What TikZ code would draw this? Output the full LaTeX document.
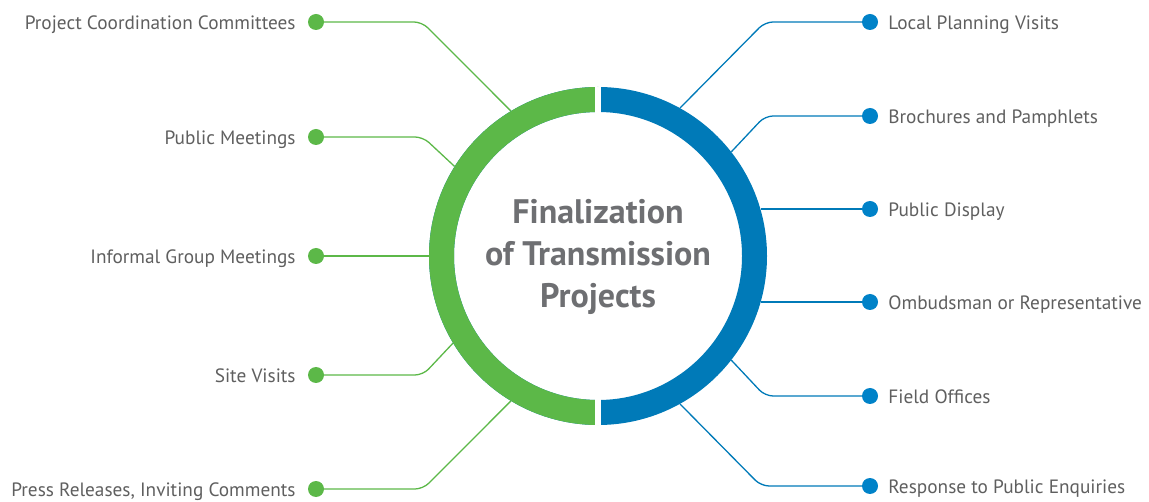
\documentclass[tikz,border=0pt]{standalone}
\usepackage{fontspec}
\setmainfont{PT Sans}
\usepackage{xcolor}
\usepackage{tikz}
\usetikzlibrary{positioning, calc}
\definecolor{RingGreen}{RGB}{92, 184, 72}
\definecolor{RingBlue}{RGB}{0, 122, 184}
\definecolor{DotBlue}{RGB}{0, 130, 200}
\definecolor{LabelGray}{RGB}{95, 95, 95}
\definecolor{TitleGray}{RGB}{110, 111, 114}
\tikzset{
  gdot/.style={circle, fill=RingGreen, inner sep=0pt, minimum size=16pt},
  bdot/.style={circle, fill=DotBlue, inner sep=0pt, minimum size=16pt},
  lbl/.style={font=\fontsize{19.3}{24}\selectfont, text=LabelGray,
    inner sep=0pt, text height=15pt, text depth=0pt},
  glink/.style={draw=RingGreen, line width=1.3pt, rounded corners=8pt},
  blink/.style={draw=RingBlue, line width=1.3pt, rounded corners=8pt},
  ring/.style={line width=25pt},
}

\begin{document}
\begin{tikzpicture}[x=1pt, y=-1pt]
  \useasboundingbox (0,0) rectangle (1149,502);
  \node[circle, minimum size=338pt, inner sep=0pt] (hub) at (598,256) {};

  % left side
  \node[gdot] (dpcc) at (316,22) {};
  \node[gdot] (dpm)  at (316,137) {};
  \node[gdot] (digm) at (316,256) {};
  \node[gdot] (dsv)  at (316,375) {};
  \node[gdot] (dpr)  at (316,489) {};
  \node[lbl, left=12pt of dpcc] (pcc) {Project Coordination Committees};
  \node[lbl, left=12pt of dpm]  (pm)  {Public Meetings};
  \node[lbl, left=12pt of digm] (igm) {Informal Group Meetings};
  \node[lbl, left=12pt of dsv]  (sv)  {Site Visits};
  \node[lbl, left=12pt of dpr]  (pr)  {Press Releases, Inviting Comments};

  % right side
  \node[bdot] (dlpv) at (870,22) {};
  \node[bdot] (dbp)  at (870,116) {};
  \node[bdot] (dpd)  at (870,209) {};
  \node[bdot] (dor)  at (870,302) {};
  \node[bdot] (dfo)  at (870,396) {};
  \node[bdot] (drpe) at (870,486) {};
  \node[lbl, right=10pt of dlpv] (lpv) {Local Planning Visits};
  \node[lbl, right=10pt of dbp]  (bp)  {Brochures and Pamphlets};
  \node[lbl, right=10pt of dpd]  (pd)  {Public Display};
  \node[lbl, right=10pt of dor]  (or)  {Ombudsman or Representative};
  \node[lbl, right=10pt of dfo]  (fo)  {Field Offices};
  \node[lbl, right=10pt of drpe] (rpe) {Response to Public Enquiries};

  % connectors
  \draw[glink] (dpcc) -- (422,22) -- (hub.121);
  \draw[glink] (dpm) -- (423,137) -- (hub.148.6);
  \draw[glink] (digm) -- (hub.180);
  \draw[glink] (dsv) -- (423,375) -- (hub.211.4);
  \draw[glink] (dpr) -- (423,489) -- (hub.239);
  \draw[blink] (dlpv) -- (765,22) -- (hub.61.2);
  \draw[blink] (dbp) -- (765,116) -- (hub.38.6);
  \draw[blink] (dpd) -- (dpd -| hub.16);
  \draw[blink] (dor) -- (dor -| hub.-16);
  \draw[blink] (dfo) -- (765,396) -- (hub.-38.6);
  \draw[blink] (drpe) -- (761,486) -- (hub.-61.2);

  % ring
  \draw[ring, RingBlue] (hub.center) circle[radius=156.5];
  \draw[ring, RingGreen] ($(hub.center)+(0,156.5)$)
    arc[start angle=90, end angle=270, radius=156.5];
  \draw[white, line width=6pt] (hub.north) -- ++(0,30);
  \draw[white, line width=6pt] (hub.south) -- ++(0,-30);

  \node[font=\fontsize{34}{42}\selectfont\bfseries, text=TitleGray,
    align=center] (title) at (598,257)
    {Finalization\\of Transmission\\Projects};
\end{tikzpicture}
\end{document}
